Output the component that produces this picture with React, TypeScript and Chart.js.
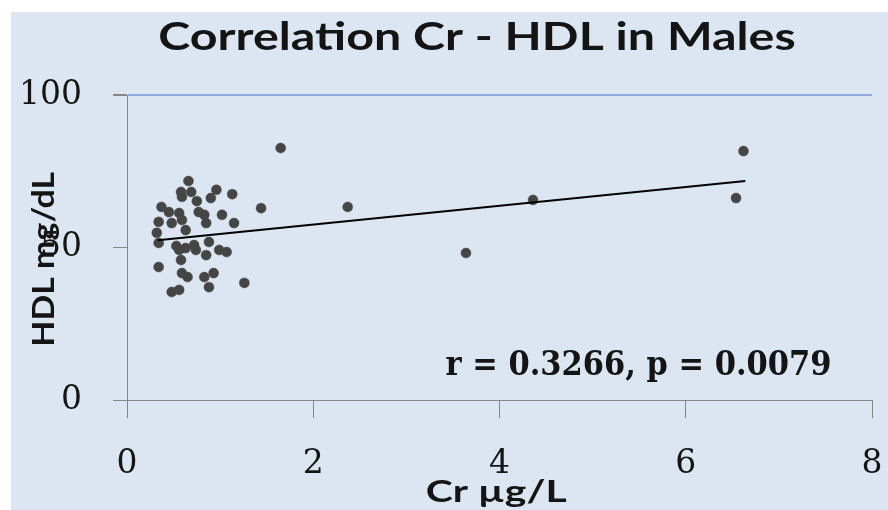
import React, { useEffect, useRef } from "react";
import { Chart, registerables } from "chart.js";

Chart.register(...registerables);

// Cr (µg/L) values of each male subject
const crValues = [
  0.66, 0.58, 0.69, 0.96, 1.13, 0.59, 0.75, 0.90, 1.44, 0.37,
  0.45, 0.56, 0.77, 0.83, 1.02, 0.34, 0.48, 0.59, 0.85, 1.15,
  0.63, 0.32, 0.34, 0.53, 0.72, 0.88, 0.56, 0.63, 0.74, 0.85,
  0.99, 1.07, 0.34, 0.58, 0.59, 0.65, 0.83, 0.93, 0.88, 1.26,
  0.48, 0.56, 1.65, 2.37, 3.64, 4.36, 6.62, 6.54,
];
// HDL (mg/dL) values of the same subjects
const hdlValues = [
  71.8, 68.2, 68.2, 68.9, 67.5, 66.6, 65.2, 66.2, 62.9, 63.3,
  61.6, 61.3, 61.6, 60.7, 60.7, 58.4, 58.0, 59.0, 58.0, 58.0,
  55.7, 54.8, 51.5, 50.5, 50.8, 51.8, 49.2, 49.8, 49.2, 47.5,
  49.2, 48.5, 43.6, 45.9, 41.6, 40.3, 40.3, 41.6, 37.0, 38.4,
  35.4, 36.1, 82.6, 63.3, 48.2, 65.6, 81.6, 66.2,
];
// linear trend line end points
const trendX = [0.33, 6.64];
const trendY = [52.4, 71.8];

const xTicks = [0, 2, 4, 6, 8];
const yTicks = [0, 50, 100];

const chartTitle = "Correlation Cr - HDL in Males";
const xTitle = "Cr µg/L";
const yTitle = "HDL mg/dL";
const statsLabel = "r = 0.3266, p = 0.0079";

function drawFitted(
  ctx: CanvasRenderingContext2D,
  text: string,
  font: string,
  targetW: number,
  targetCap: number,
  cx: number,
  cy: number,
  rot: number
) {
  ctx.save();
  const base = 40;
  ctx.font = font.replace("SIZE", String(base));
  const capBase = ctx.measureText("H0").actualBoundingBoxAscent;
  const size = (base * targetCap) / capBase;
  ctx.font = font.replace("SIZE", size.toFixed(2));
  const m = ctx.measureText(text);
  const inkW = m.actualBoundingBoxLeft + m.actualBoundingBoxRight;
  const cap = ctx.measureText("H0").actualBoundingBoxAscent;
  const sx = targetW / inkW;
  ctx.translate(cx, cy);
  ctx.rotate(rot);
  ctx.scale(sx, 1);
  ctx.textAlign = "left";
  ctx.textBaseline = "alphabetic";
  ctx.fillStyle = "#141414";
  const left = -inkW / 2 + m.actualBoundingBoxLeft;
  ctx.fillText(text, left, cap / 2);
  ctx.restore();
}

const textPlugin = {
  id: "textPlugin",
  afterDraw(chart: any) {
    const ctx = chart.ctx as CanvasRenderingContext2D;
    drawFitted(ctx, chartTitle, "bold SIZEpx Lato", 635, 28, 466, 24, 0);
    drawFitted(ctx, yTitle, "bold SIZEpx Lato", 173, 22, 32, 246, -Math.PI / 2);
    drawFitted(ctx, xTitle, "bold SIZEpx Lato", 140, 22, 486, 479, 0);
    drawFitted(ctx, statsLabel, "600 SIZEpx 'DejaVu Serif'", 385, 25, 627, 350, 0);
  },
};

export default function App() {
  const ref = useRef<HTMLCanvasElement | null>(null);

  useEffect(() => {
    if (!ref.current) return;
    const points = crValues.map((x, i) => ({ x, y: hdlValues[i] }));
    const trend = trendX.map((x, i) => ({ x, y: trendY[i] }));
    const axisColor = "#868686";
    const tickFont = { family: "'DejaVu Serif'", size: 33 };

    const chart = new Chart(ref.current, {
      type: "scatter",
      data: {
        datasets: [
          {
            type: "line",
            label: "Trend",
            data: trend,
            borderColor: "#000000",
            borderWidth: 2,
            pointRadius: 0,
            fill: false,
            order: 0,
          } as any,
          {
            label: "HDL",
            data: points,
            backgroundColor: "#454545",
            borderColor: "rgba(69,69,69,0.45)",
            pointRadius: 5,
            pointBorderWidth: 1,
            order: 1,
          },
        ],
      },
      options: {
        animation: false,
        responsive: true,
        maintainAspectRatio: false,
        layout: { padding: { top: 83, right: 16, left: 0, bottom: 0 } },
        plugins: {
          legend: { display: false },
          title: { display: false },
          tooltip: { enabled: false },
        },
        scales: {
          x: {
            type: "linear",
            min: 0,
            max: 8,
            afterBuildTicks: (s: any) => {
              s.ticks = xTicks.map((v) => ({ value: v }));
            },
            afterFit: (s: any) => {
              s.height = 110;
              s.paddingLeft = 0;
              s.paddingRight = 0;
            },
            grid: {
              color: "rgba(0,0,0,0)",
              tickColor: axisColor,
              tickLength: 18,
              drawOnChartArea: false,
            },
            border: { color: axisColor, width: 1 },
            ticks: {
              font: tickFont,
              color: "#141414",
              padding: 27,
              maxRotation: 0,
            },
          },
          y: {
            type: "linear",
            min: 0,
            max: 100,
            afterBuildTicks: (s: any) => {
              s.ticks = yTicks.map((v) => ({ value: v }));
            },
            afterFit: (s: any) => {
              s.width = 116;
              s.paddingTop = 0;
              s.paddingBottom = 0;
            },
            grid: {
              color: (c: any) => (c.tick && c.tick.value === 100 ? "#8fa8e0" : "rgba(0,0,0,0)"),
              lineWidth: (c: any) => (c.tick && c.tick.value === 100 ? 2 : 1),
              tickColor: axisColor,
              tickLength: 14,
            },
            border: { color: axisColor, width: 1 },
            ticks: {
              font: tickFont,
              color: "#141414",
              padding: 31,
            },
          },
        },
      },
      plugins: [textPlugin],
    } as any);

    return () => chart.destroy();
  }, []);

  return (
    <div style={{ position: "absolute", left: 0, top: 0, width: 888, height: 510, background: "#ffffff" }}>
      <div style={{ position: "absolute", left: 11, top: 12, width: 877, height: 498, background: "#dce6f2" }}>
        <canvas ref={ref} />
      </div>
    </div>
  );
}
